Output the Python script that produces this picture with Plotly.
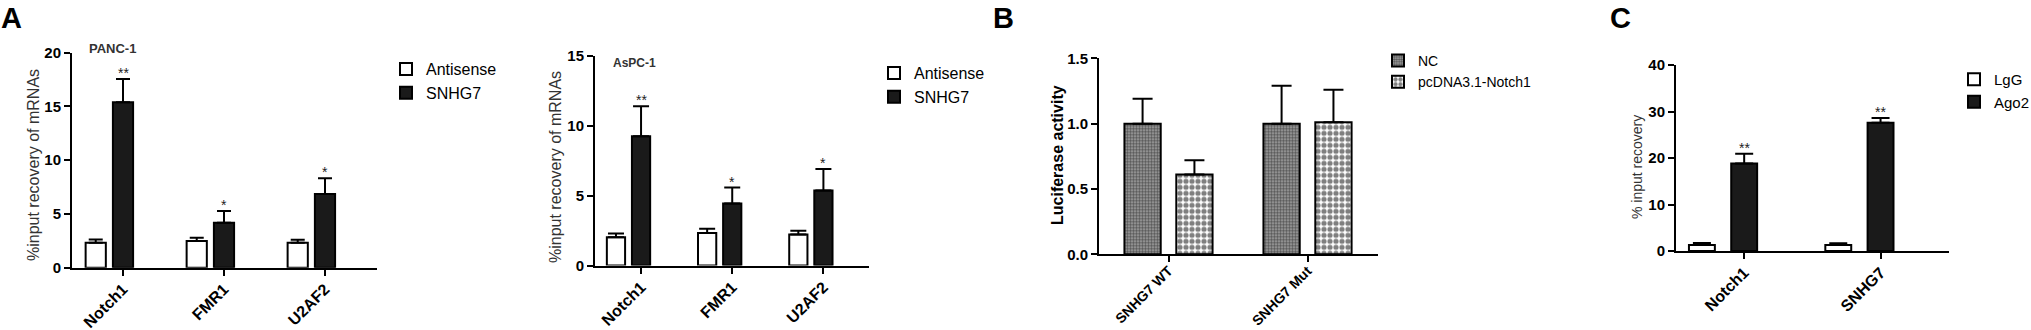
import plotly.graph_objects as go

# ---------------- data ----------------
a_cats = ["Notch1", "FMR1", "U2AF2"]
panc_antisense = [2.33, 2.48, 2.33]
panc_antisense_err = [0.30, 0.30, 0.28]
panc_snhg7 = [15.38, 4.19, 6.85]
panc_snhg7_err = [2.17, 1.08, 1.46]
panc_sig = ["**", "*", "*"]

aspc_antisense = [2.02, 2.33, 2.21]
aspc_antisense_err = [0.27, 0.29, 0.27]
aspc_snhg7 = [9.24, 4.43, 5.36]
aspc_snhg7_err = [2.14, 1.14, 1.54]
aspc_sig = ["**", "*", "*"]

b_cats = ["SNHG7 WT", "SNHG7 Mut"]
nc_vals = [1.00, 1.00]
nc_err = [0.19, 0.29]
pcdna_vals = [0.61, 1.01]
pcdna_err = [0.11, 0.25]

c_cats = ["Notch1", "SNHG7"]
lgg_vals = [1.29, 1.29]
lgg_err = [0.42, 0.35]
ago2_vals = [18.8, 27.6]
ago2_err = [2.1, 1.0]
c_sig = ["**", "**"]

# ---------------- helpers ----------------
FONT = "Liberation Sans, Arial, sans-serif"
W, H = 2031, 330


def px_x(p):
    return p / W


def px_y(p):
    return 1 - p / H


fig = go.Figure()


def add_bar(name, cats, vals, err, ax, legend, offset, width, fill, pattern=None,
            cap=7, showlegend=True):
    xs = list(range(len(cats)))
    marker = dict(color=fill, line=dict(color="black", width=2))
    if pattern is not None:
        marker["pattern"] = pattern
    fig.add_trace(go.Bar(
        x=xs, y=vals, name=name, offset=offset, width=width,
        xaxis="x" + ax, yaxis="y" + ax, legend=legend, showlegend=showlegend,
        marker=marker, hoverinfo="skip",
        error_y=dict(type="data", array=err, arrayminus=[0] * len(err),
                     symmetric=False, color="black", thickness=2, width=cap),
    ))


def add_stars(cats, vals, err, sig, ax, center, size=14):
    for i, (v, e, s) in enumerate(zip(vals, err, sig)):
        fig.add_annotation(x=i + center, y=v + e, text=s, showarrow=False,
                           xref="x" + ax, yref="y" + ax, yanchor="bottom",
                           yshift=-4, font=dict(family=FONT, size=size, color="#222"))


# Panel A1 (PANC-1)
bw = 0.2
add_bar("Antisense", a_cats, panc_antisense, panc_antisense_err, "", "legend",
        -0.235, bw, "white", cap=7)
add_bar("SNHG7", a_cats, panc_snhg7, panc_snhg7_err, "", "legend",
        0.035, bw, "#1a1a1a", cap=7)
add_stars(a_cats, panc_snhg7, panc_snhg7_err, panc_sig, "", 0.135)

# Panel A2 (AsPC-1)
add_bar("Antisense", a_cats, aspc_antisense, aspc_antisense_err, "2", "legend2",
        -0.235, bw, "white", cap=8)
add_bar("SNHG7", a_cats, aspc_snhg7, aspc_snhg7_err, "2", "legend2",
        0.04, bw, "#1a1a1a", cap=8)
add_stars(a_cats, aspc_snhg7, aspc_snhg7_err, aspc_sig, "2", 0.14)

# Panel B
add_bar("NC", b_cats, nc_vals, nc_err, "3", "legend3", -0.317, 0.261, "white",
        pattern=dict(shape=".", fgcolor="black", bgcolor="#aaa", size=3, solidity=0.6),
        cap=10)
add_bar("pcDNA3.1-Notch1", b_cats, pcdna_vals, pcdna_err, "3", "legend3", 0.056, 0.261,
        "white",
        pattern=dict(shape=".", fgcolor="black", bgcolor="white", size=6, solidity=0.6),
        cap=10)

# Panel C
add_bar("LgG", c_cats, lgg_vals, lgg_err, "4", "legend4", -0.27, 0.19, "white", cap=9)
add_bar("Ago2", c_cats, ago2_vals, ago2_err, "4", "legend4", 0.04, 0.19, "#1a1a1a", cap=9)
add_stars(c_cats, ago2_vals, ago2_err, c_sig, "4", 0.135)

# ---------------- axes ----------------
axis_common = dict(showline=True, linecolor="black", linewidth=2, ticks="outside",
                   tickwidth=2, tickcolor="black", showgrid=False, zeroline=False,
                   fixedrange=True, automargin=False)


def set_axes(ax, xdom, ydom, xrange, yrange, cats, tickshift, dtick, tickfmt,
             xfont=16, yfont=15, standoff=-2):
    xa = dict(axis_common, domain=[px_x(xdom[0]), px_x(xdom[1])], range=xrange,
              tickmode="array", tickvals=[i + tickshift for i in range(len(cats))],
              ticktext=cats, tickangle=-45, ticklen=6, anchor="y" + ax,
              ticklabelstandoff=standoff,
              tickfont=dict(family=FONT, size=xfont, color="black", weight="bold"))
    ya = dict(axis_common, domain=[px_y(ydom[1]), px_y(ydom[0])], range=yrange,
              dtick=dtick, tick0=0, tickformat=tickfmt, ticklen=6, anchor="x" + ax,
              tickfont=dict(family=FONT, size=yfont, color="black", weight="bold"))
    key = "" if ax == "" else ax
    fig.update_layout(**{"xaxis" + key: xa, "yaxis" + key: ya})


set_axes("", (72, 377), (52.7, 267.7), [-0.37, 2.65], [0, 20], a_cats, 0.135, 5, "d")
set_axes("2", (595, 869), (55.5, 265.5), [-0.365, 2.64], [0, 15], a_cats, 0.14, 5, "d")
set_axes("3", (1099, 1378), (58.3, 254.3), [-0.5, 1.507], [0, 1.5], b_cats, 0.0, 0.5, ".1f",
         xfont=14, standoff=-5)
set_axes("4", (1676, 1949), (65, 251), [-0.365, 1.637], [0, 40], c_cats, 0.135, 10, "d")

# ---------------- legends ----------------
def legend_cfg(xpx, ypx, size):
    return dict(x=px_x(xpx), y=px_y(ypx), xanchor="left", yanchor="top",
                bgcolor="rgba(0,0,0,0)", font=dict(family=FONT, size=size, color="black"),
                tracegroupgap=0, itemclick=False, itemdoubleclick=False)


fig.update_layout(
    legend=legend_cfg(386, 52, 16),
    legend2=legend_cfg(874, 56, 16),
    legend3=legend_cfg(1378, 45, 14),
    legend4=legend_cfg(1954, 63, 15),
)

# ---------------- texts ----------------
def text(x, y, s, size, bold=False, angle=0, color="black", xanchor="center",
         yanchor="middle"):
    fig.add_annotation(x=px_x(x), y=px_y(y), xref="paper", yref="paper", text=s,
                       showarrow=False, textangle=angle, xanchor=xanchor, yanchor=yanchor,
                       font=dict(family=FONT, size=size, color=color,
                                 weight="bold" if bold else "normal"))


text(11, 0, "A", 29, bold=True, yanchor="top")
text(1003, 0, "B", 29, bold=True, yanchor="top")
text(1620, 0, "C", 29, bold=True, yanchor="top")

text(87, 49, "PANC-1", 13, bold=True, color="#333", xanchor="left")
text(611, 63, "AsPC-1", 12, bold=True, color="#333", xanchor="left")

text(33, 165, "%input recovery of mRNAs", 16, angle=-90, color="#333")
text(555, 167, "%input recovery of mRNAs", 16, angle=-90, color="#333")
text(1057, 155, "Luciferase activity", 16, bold=True, angle=-90)
text(1637, 167, "% input recovery", 14, angle=-90, color="#333")

fig.update_layout(
    width=W, height=H, margin=dict(l=0, r=0, t=0, b=0, autoexpand=False),
    paper_bgcolor="white", plot_bgcolor="white", barmode="overlay",
    font=dict(family=FONT, color="black"),
)

fig.write_html(
    "out.html",
    config={"displayModeBar": False, "staticPlot": False},
    post_script="document.body.style.margin='0';document.body.style.overflow='hidden';",
)
